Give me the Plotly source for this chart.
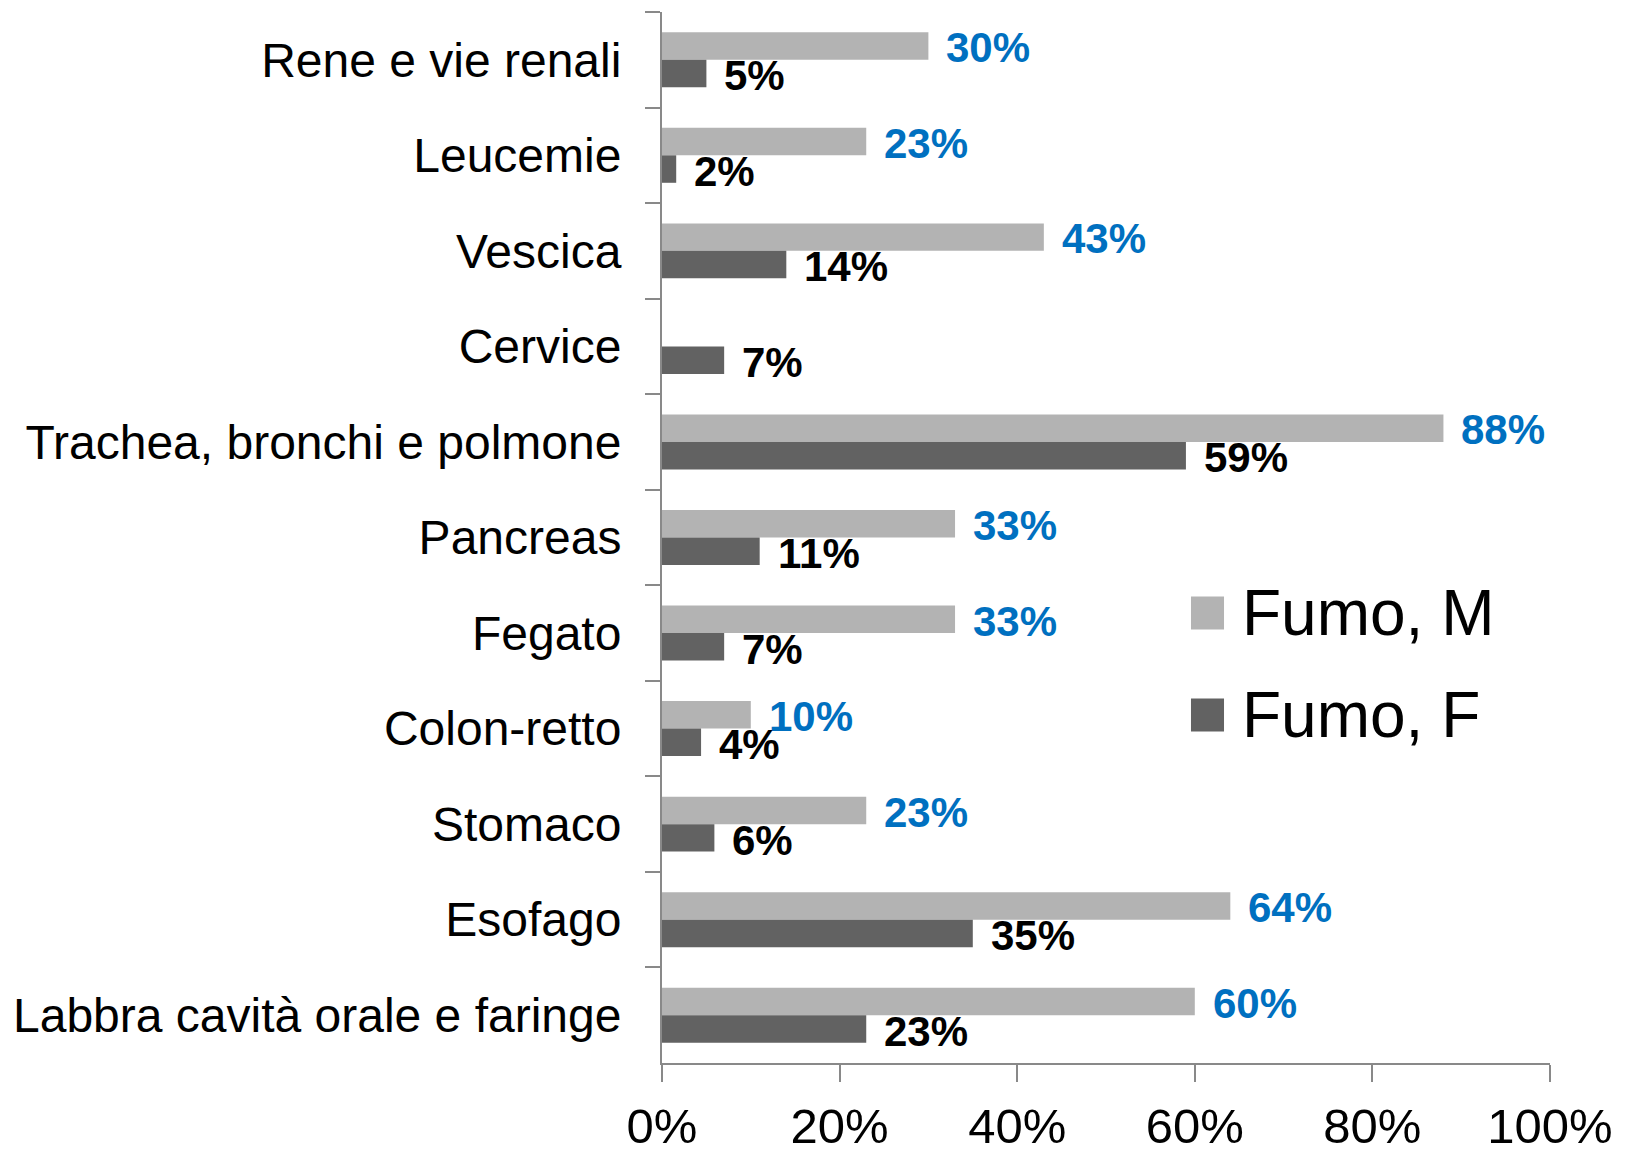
import plotly.graph_objects as go

categories = ["Rene e vie renali", "Leucemie", "Vescica", "Cervice",
              "Trachea, bronchi e polmone", "Pancreas", "Fegato", "Colon-retto",
              "Stomaco", "Esofago", "Labbra cavità orale e faringe"]
fumo_m = [0.30, 0.23, 0.43, None, 0.88, 0.33, 0.33, 0.10, 0.23, 0.64, 0.60]
fumo_f = [0.05, 0.016, 0.14, 0.07, 0.59, 0.11, 0.07, 0.044, 0.059, 0.35, 0.23]
labels_m = ["30%", "23%", "43%", "", "88%", "33%", "33%", "10%", "23%", "64%", "60%"]
labels_f = ["5%", "2%", "14%", "7%", "59%", "11%", "7%", "4%", "6%", "35%", "23%"]
series_names = ["Fumo, M", "Fumo, F"]
x_ticks = [0, 0.2, 0.4, 0.6, 0.8, 1.0]

COL_M = "#B3B3B3"
COL_F = "#626262"
FONT = "Liberation Sans, Arial, sans-serif"

fig = go.Figure()
fig.add_trace(go.Bar(y=categories, x=fumo_m, orientation="h", name=series_names[0],
                     marker=dict(color=COL_M, line=dict(width=0)), showlegend=False))
fig.add_trace(go.Bar(y=categories, x=fumo_f, orientation="h", name=series_names[1],
                     marker=dict(color=COL_F, line=dict(width=0)), showlegend=False))

annotations = []
for cat, v, t in zip(categories, fumo_m, labels_m):
    if v is None:
        continue
    annotations.append(dict(x=v, y=cat, xref="x", yref="y", text=t, showarrow=False,
                            xanchor="left", yanchor="middle", xshift=16, yshift=12,
                            font=dict(family=FONT, size=42, color="#0070C0", weight="bold")))
for cat, v, t in zip(categories, fumo_f, labels_f):
    annotations.append(dict(x=v, y=cat, xref="x", yref="y", text=t, showarrow=False,
                            xanchor="left", yanchor="middle", xshift=16, yshift=-16,
                            font=dict(family=FONT, size=42, color="#000000", weight="bold")))

# custom legend
leg_rows = [(0.4282, COL_M, series_names[0]), (0.3311, COL_F, series_names[1])]
shapes = []
for yc, col, name in leg_rows:
    shapes.append(dict(type="rect", xref="paper", yref="paper", x0=0.5957, x1=0.6329,
                       y0=yc - 0.0157, y1=yc + 0.0157, fillcolor=col, line=dict(width=0)))
    annotations.append(dict(x=0.6509, y=yc, xref="paper", yref="paper", text=name,
                            showarrow=False, xanchor="left", yanchor="middle",
                            font=dict(family=FONT, size=64, color="#000000")))

fig.update_layout(
    width=1622, height=1141,
    margin=dict(l=654, r=80, t=4, b=86),
    paper_bgcolor="white", plot_bgcolor="white",
    barmode="group", bargap=0.425, bargroupgap=0,
    showlegend=False,
    annotations=annotations, shapes=shapes,
    font=dict(family=FONT, color="#000000"),
)
fig.update_xaxes(range=[0, 1], tickvals=x_ticks, tickformat=".0%", automargin=False,
                 showgrid=False, zeroline=False,
                 showline=True, linecolor="#898989", linewidth=2,
                 ticks="outside", ticklen=17, tickcolor="#898989", tickwidth=2,
                 ticklabelstandoff=2,
                 tickfont=dict(family=FONT, size=49, color="#000000"))
fig.update_yaxes(autorange="reversed", automargin=False, showgrid=False, zeroline=False,
                 showline=True, linecolor="#898989", linewidth=2,
                 ticks="outside", ticklen=15, tickcolor="#898989", tickwidth=2,
                 tickson="boundaries", ticklabelstandoff=29,
                 tickfont=dict(family=FONT, size=48, color="#000000"))

fig.write_html("out.html")
